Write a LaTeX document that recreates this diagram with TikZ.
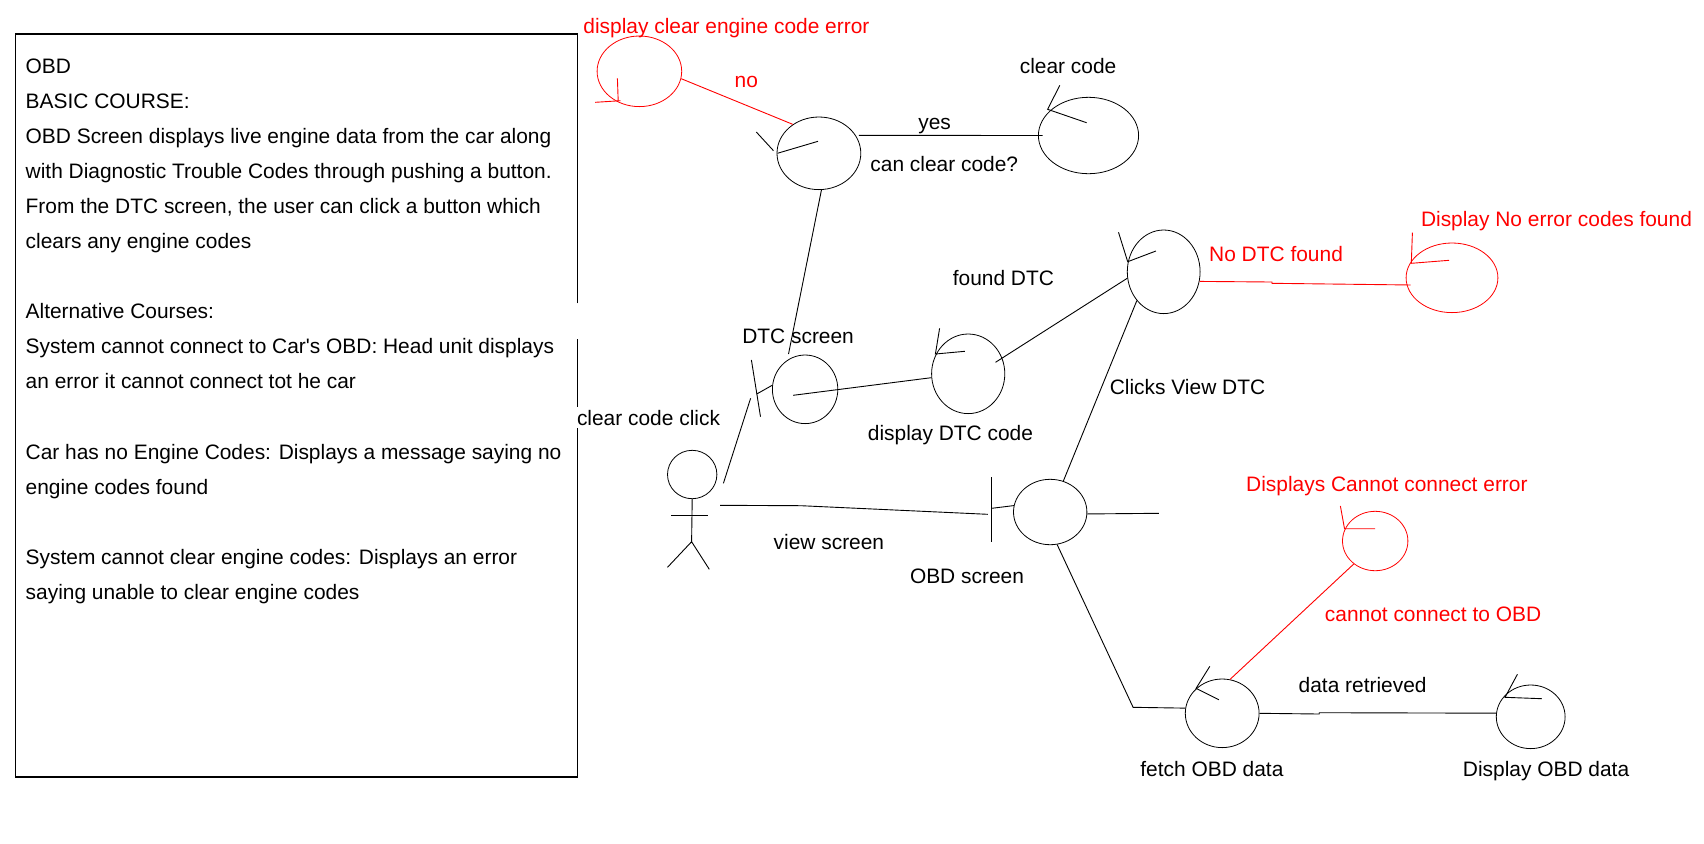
\documentclass[tikz,border=0pt]{standalone}
\usepackage{fontspec}
\setmainfont[Ligatures=TeXOff]{Liberation Sans}
\usetikzlibrary{shapes.geometric}
\tikzset{
  ctrl/.style 2 args={ellipse,draw=black,line width=0.4pt,minimum width=#1pt,minimum height=#2pt},
  errctrl/.style 2 args={ellipse,draw=red,line width=0.4pt,minimum width=#1pt,minimum height=#2pt},
  lbl/.style={anchor=base west,xshift=-0.5pt,font=\fontsize{10.46}{12}\selectfont},
  errlbl/.style={lbl,text=red},
  wire/.style={black,line width=0.45pt},
  errwire/.style={red,line width=0.45pt}
}
\begin{document}
\begin{tikzpicture}[x=0.5pt,y=-0.5pt]
\tikzstyle{every node}+=[inner sep=0pt]
\useasboundingbox (0,0) rectangle (1704,843);
% course box
\draw [line width=0.6pt] (577.5,303.3) -- (577.5,34) -- (15.3,34) -- (15.3,777) -- (577.5,777) -- (577.5,428.3);
\draw [line width=0.6pt] (577.5,406.7) -- (577.5,339.3);
\node (course) [lbl,anchor=north west,align=left,font=\fontsize{10.46}{17.55}\selectfont] at (26.3,58) {OBD\\
BASIC COURSE:\\
OBD Screen displays live engine data from the car along\\
with Diagnostic Trouble Codes through pushing a button.\\
From the DTC screen, the user can click a button which\\
clears any engine codes\\
\mbox{}\\
Alternative Courses:\\
System cannot connect to Car's OBD: Head unit displays\\
an error it cannot connect tot he car\\
\mbox{}\\
Car has no Engine Codes: Displays a message saying no\\
engine codes found\\
\mbox{}\\
System cannot clear engine codes: Displays an error\\
saying unable to clear engine codes};
% controllers
\node (clearerr) [errctrl={42.3}{35.3}] at (639.4,71.3) {};
\node (canclear) [ctrl={41.9}{36.3}] at (818.9,153.3) {};
\node (clearcode) [ctrl={50.1}{38.2}] at (1088.5,135.5) {};
\node (dtcscreen) [ctrl={32.7}{34.3}] at (805.1,389.3) {};
\node (showdtc) [ctrl={36.6}{39.8}] at (968.2,373.8) {};
\node (founddtc) [ctrl={36.4}{41.8}] at (1163.7,271.8) {};
\node (nocodes) [errctrl={45.9}{34.8}] at (1452,277.8) {};
\node (obdscreen) [ctrl={36.7}{32.7}] at (1050.2,512) {};
\node (connerr) [errctrl={32.7}{29.7}] at (1375.2,541) {};
\node (fetch) [ctrl={36.9}{34.3}] at (1222.2,713.3) {};
\node (showobd) [ctrl={34.4}{31.8}] at (1530.7,716.8) {};
\node (head) [ctrl={24.7}{24.2}] at (692.2,474.5) {};
% free ends
\coordinate (hip) at (691.6,541.7);
\coordinate (dtctop) at (788.5,354);
\coordinate (dtcin) at (793.1,395.3);
\coordinate (showin) at (995.5,362.3);
\coordinate (obdend) at (1158.8,513.3);
\coordinate (obdbend) at (1133.1,707.3);
\coordinate (userdtc) at (723.4,483.3);
\coordinate (dtcbar) at (750.6,398.3);
\coordinate (userobd) at (720,505.3);
\coordinate (obdbar) at (987.9,514.3);
% connectors
\draw [errwire] (clearerr.-10) -- (canclear.132);
\draw [wire] ([xshift=1.5pt]canclear.26.5) -- ([xshift=2.3pt]clearcode.west);
\draw [wire] (canclear.-86) -- (dtctop);
\draw [wire] (dtcin) -- (showdtc.186);
\draw [wire] (showin) -- (founddtc.190);
\draw [wire] (founddtc.227) -- (obdscreen.67);
\draw [wire] (obdscreen.-3) -- (obdend);
\draw [wire] (obdscreen.-78) -- (obdbend) -- (fetch.172);
\draw [wire] (fetch.east) -- (1319.2,714) -- (1319.2,712.7) -- (showobd.174);
\draw [errwire] (connerr.-133) -- (fetch.77);
\draw [errwire] (founddtc.-15) -- (1272,282) -- (1272,283.3) -- ([xshift=2pt]nocodes.189);
\draw [wire] (userdtc) -- (dtcbar);
\draw [wire] (userobd) -- (801,505.7) -- (obdbar);
% boundary marks
\draw [wire] (751.4,360) -- (760.5,416.7);
\draw [wire] (756.7,394) -- (dtcscreen.173);
\draw [wire] (991.7,477) -- (991.7,541.7);
\draw [wire] (991.7,508.3) -- (obdscreen.170);
% actor
\draw [wire] (head.south) -- (hip);
\draw [wire] (671,515.3) -- (707.7,515.3);
\draw [wire] (667.5,567.3) -- (hip) -- (709.3,569.3);
% controller marks
\draw [errwire] (617.4,78.3) -- (618.2,101);
\draw [errwire] (595.2,102.3) -- (620.5,100.7);
\draw [wire] (756.3,132) -- (773.5,150.7);
\draw [wire] (777.4,153.3) -- (818,141.3);
\draw [wire] (1059.8,85.3) -- (1047.6,109.3) -- (1086.6,122.7);
\draw [wire] (939.6,328.3) -- (935.4,354) -- (964.9,351.3);
\draw [wire] (1118.5,232.3) -- (1127.7,261.7) -- (1155.9,251);
\draw [errwire] (1412.4,232.7) -- (1411.3,263.3) -- (1449,260.3);
\draw [errwire] (1340.4,506) -- (1344.5,528.7) -- (1375.2,528.7);
\draw [wire] (1209.8,666.3) -- (1196.1,688.3) -- (1218.9,699.7);
\draw [wire] (1517.4,674.3) -- (1505,697.3) -- (1541.9,698.7);
% labels
\node (t1) [errlbl] at (584,33) {display clear engine code error};
\node (t2) [errlbl] at (735.3,87.7) {no};
\node (t3) [lbl] at (919,129.4) {yes};
\node (t4) [lbl] at (871,171) {can clear code?};
\node (t5) [lbl] at (1020.4,73) {clear code};
\node (t6) [lbl] at (953.4,285.4) {found DTC};
\node (t7) [errlbl] at (1209.8,261.7) {No DTC found};
\node (t8) [errlbl] at (1421.6,226.7) {Display No error codes found};
\node (t9) [lbl] at (742.9,343.7) {DTC screen};
\node (t10) [lbl] at (868.5,440) {display DTC code};
\node (t11) [lbl] at (577.6,425) {clear code click};
\node (t12) [lbl] at (1110.4,394.4) {Clicks View DTC};
\node (t13) [errlbl] at (1246.8,491.7) {Displays Cannot connect error};
\node (t14) [lbl] at (774.3,549.4) {view screen};
\node (t15) [lbl] at (910.6,583.7) {OBD screen};
\node (t16) [errlbl] at (1325.5,621) {cannot connect to OBD};
\node (t17) [lbl] at (1299.3,692.7) {data retrieved};
\node (t18) [lbl] at (1141,776.7) {fetch OBD data};
\node (t19) [lbl] at (1463.5,776.7) {Display OBD data};
\end{tikzpicture}
\end{document}
